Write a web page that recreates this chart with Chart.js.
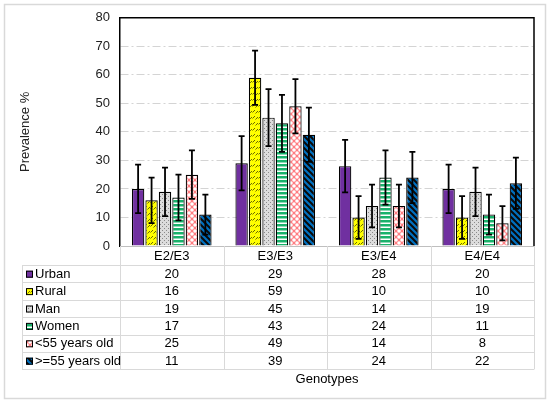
<!DOCTYPE html>
<html>
<head>
<meta charset="utf-8">
<script src="https://cdn.jsdelivr.net/npm/chart.js@4.4.1/dist/chart.umd.min.js"></script>
<style>
  html, body { margin: 0; padding: 0; background: #fff; }
  #wrap { width: 550px; height: 402px; }
</style>
</head>
<body>
<div id="wrap"><canvas id="chart" width="550" height="402"></canvas></div>
<script>
const genotypes = ['E2/E3', 'E3/E3', 'E3/E4', 'E4/E4'];
const seriesNames = ['Urban', 'Rural', 'Man', 'Women', '<55 years old', '>=55 years old'];
const urban  = [20, 29, 28, 20];
const rural  = [16, 59, 10, 10];
const man    = [19, 45, 14, 19];
const women  = [17, 43, 24, 11];
const under55 = [25, 49, 14, 8];
const over55  = [11, 39, 24, 22];
// error bar half-lengths
const urbanErr  = [8.5, 9.5, 9.2, 8.5];
const ruralErr  = [8, 9.5, 7.5, 7.5];
const manErr    = [8.5, 10, 7.5, 8.5];
const womenErr  = [8, 10, 9.5, 7];
const under55Err = [8.5, 9.5, 7.5, 6];
const over55Err  = [7, 9.5, 9, 9];
const yTicks = [0, 10, 20, 30, 40, 50, 60, 70, 80];

const canvas = document.getElementById('chart');
const ctx = canvas.getContext('2d');
const FONT = 'Arial, "Liberation Sans", sans-serif';

function makePattern(size, draw){
  const c = document.createElement('canvas');
  c.width = c.height = size;
  const g = c.getContext('2d');
  draw(g, size);
  return ctx.createPattern(c, 'repeat');
}

const fills = [
  '#7030a0',
  makePattern(6, (g, s)=>{ // yellow with dark slanted dashes
    g.fillStyle = '#ffff00'; g.fillRect(0,0,s,s);
    g.strokeStyle = '#6b6b00'; g.lineWidth = 1;
    g.beginPath(); g.moveTo(0.5,4.5); g.lineTo(3,2); g.moveTo(3.5,5.5); g.lineTo(6,3); g.stroke();
  }),
  makePattern(4, (g, s)=>{ // grey dots
    g.fillStyle = '#dcdcdc'; g.fillRect(0,0,s,s);
    g.fillStyle = '#8a8a8a'; g.fillRect(0,0,1,1); g.fillRect(2,2,1,1);
  }),
  makePattern(4, (g, s)=>{ // green with white horizontal lines
    g.fillStyle = '#19b26b'; g.fillRect(0,0,s,s);
    g.fillStyle = '#ffffff'; g.fillRect(0,2.5,s,1.5);
  }),
  makePattern(6, (g, s)=>{ // pink lattice
    g.fillStyle = '#ff7c80'; g.fillRect(0,0,s,s);
    g.fillStyle = '#ffffff';
    g.beginPath(); g.arc(3,3,1.8,0,Math.PI*2); g.fill();
    [[0,0],[6,0],[0,6],[6,6]].forEach(p=>{ g.beginPath(); g.arc(p[0],p[1],1.8,0,Math.PI*2); g.fill(); });
  }),
  makePattern(6, (g, s)=>{ // blue with black wide diagonal
    g.fillStyle = '#0070c0'; g.fillRect(0,0,s,s);
    g.strokeStyle = '#0a0a0a'; g.lineWidth = 2;
    g.beginPath();
    g.moveTo(-1,-1); g.lineTo(7,7);
    g.moveTo(-4,2); g.lineTo(4,10);
    g.moveTo(2,-4); g.lineTo(10,4);
    g.stroke();
  })
];

const values = [urban, rural, man, women, under55, over55];
const errors = [urbanErr, ruralErr, manErr, womenErr, under55Err, over55Err];

const datasets = seriesNames.map((name, i)=>({
  label: name,
  data: values[i],
  errors: errors[i],
  backgroundColor: fills[i],
  borderColor: '#000',
  borderWidth: 1.2,
  categoryPercentage: 0.78,
  barPercentage: 0.92
}));

const frame = {
  id: 'frame',
  beforeDraw(chart){
    const c = chart.ctx;
    c.save();
    c.fillStyle = '#fff'; c.fillRect(0,0,chart.width,chart.height);
    c.strokeStyle = '#d9d9d9'; c.lineWidth = 1.5;
    c.strokeRect(4.5, 4.5, chart.width-9, chart.height-8);
    c.restore();
  },
  afterDraw(chart){
    const c = chart.ctx, a = chart.chartArea;
    c.save();
    c.strokeStyle = '#000'; c.lineWidth = 1.5;
    c.beginPath();
    c.moveTo(a.left, a.top); c.lineTo(a.right, a.top); c.lineTo(a.right, a.bottom);
    c.stroke();
    c.restore();
  }
};

const errorBars = {
  id: 'errorBars',
  afterDatasetsDraw(chart){
    const c = chart.ctx, y = chart.scales.y;
    c.save();
    c.strokeStyle = '#000'; c.lineWidth = 1.8;
    chart.data.datasets.forEach((ds, di)=>{
      chart.getDatasetMeta(di).data.forEach((bar, i)=>{
        const v = ds.data[i], e = ds.errors[i];
        const yt = y.getPixelForValue(v + e), yb = y.getPixelForValue(v - e);
        c.beginPath();
        c.moveTo(bar.x, yt); c.lineTo(bar.x, yb);
        c.moveTo(bar.x-3, yt); c.lineTo(bar.x+3, yt);
        c.moveTo(bar.x-3, yb); c.lineTo(bar.x+3, yb);
        c.stroke();
      });
    });
    c.restore();
  }
};

const dataTable = {
  id: 'dataTable',
  afterDraw(chart){
    const c = chart.ctx, a = chart.chartArea;
    const n = genotypes.length;
    const colW = (a.right - a.left) / n;
    const headTop = a.bottom, headBottom = a.bottom + 19;
    const rowH = 17.4;
    const labelLeft = 22;
    const tableBottom = headBottom + rowH * seriesNames.length;
    c.save();
    c.strokeStyle = '#d9d9d9'; c.lineWidth = 1;
    c.beginPath();
    for(let k=0; k<=n; k++){
      const xx = Math.round(a.left + k*colW) + 0.5;
      c.moveTo(xx, headTop); c.lineTo(xx, tableBottom);
    }
    c.moveTo(labelLeft+0.5, headBottom); c.lineTo(labelLeft+0.5, tableBottom);
    for(let r=0; r<=seriesNames.length; r++){
      const yy = Math.round(headBottom + r*rowH) + 0.5;
      c.moveTo(labelLeft, yy); c.lineTo(a.right, yy);
    }
    c.stroke();

    c.fillStyle = '#000';
    c.font = '13px ' + FONT;
    c.textAlign = 'center'; c.textBaseline = 'middle';
    genotypes.forEach((g, k)=>{
      c.fillText(g, a.left + (k+0.5)*colW, (headTop + headBottom)/2 + 1);
    });
    seriesNames.forEach((name, r)=>{
      const cy = headBottom + (r+0.5)*rowH + 0.5;
      // legend key
      c.fillStyle = fills[r];
      c.fillRect(26, cy-3.5, 7, 7);
      c.strokeStyle = '#000'; c.lineWidth = 1;
      c.strokeRect(26.5, cy-3, 6, 6);
      c.fillStyle = '#000';
      c.textAlign = 'left';
      c.fillText(name, 35, cy);
      c.textAlign = 'center';
      values[r].forEach((v, k)=>{
        c.fillText(String(v), a.left + (k+0.5)*colW, cy);
      });
    });
    c.fillText('Genotypes', (a.left + a.right)/2, tableBottom + 10);
    c.restore();
  }
};

new Chart(ctx, {
  type: 'bar',
  data: { labels: genotypes, datasets },
  options: {
    responsive: false,
    animation: false,
    devicePixelRatio: 1,
    layout: { padding: { left: 16, right: 16, top: 6, bottom: 148 } },
    plugins: { legend: { display: false }, tooltip: { enabled: false } },
    scales: {
      x: {
        grid: { display: false },
        ticks: { display: false },
        border: { color: '#bfbfbf', width: 1 }
      },
      y: {
        min: 0, max: 80,
        afterBuildTicks(scale){ scale.ticks = yTicks.map(v=>({ value: v })); },
        afterFit(scale){ scale.width = 104; },
        ticks: { color: '#222', font: { size: 13, family: FONT }, padding: 10 },
        grid: { color: '#d4d4d4', lineWidth: 1, drawTicks: false, borderDash: [8, 3, 2, 3] },
        border: { color: '#000', width: 1.5, dash: [8, 3, 2, 3] },
        title: { display: true, text: 'Prevalence %', color: '#222', font: { size: 13, family: FONT }, padding: { top: 2, bottom: 0 } }
      }
    }
  },
  plugins: [frame, errorBars, dataTable]
});
</script>
</body>
</html>
